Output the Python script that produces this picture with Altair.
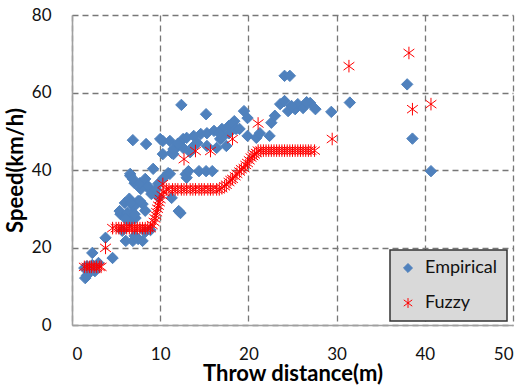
import altair as alt
import pandas as pd

# Empirical observations (throw distance m, speed km/h)
emp_x = [1.4, 1.7, 1.5, 1.7, 2.0, 2.6, 2.3, 2.3, 3.0, 3.8, 4.6,
         5.7, 6.1, 6.9, 7.1, 7.5, 8.0, 8.3, 8.9,
         5.5, 6.0, 6.6, 6.9, 7.2, 7.5, 8.0, 8.3, 9.0, 6.6, 7.1, 8.3, 8.6, 7.8,
         6.6, 6.9, 7.7, 8.3, 8.6, 9.2, 9.5, 9.8, 5.4, 6.5, 7.0, 6.7, 7.7, 6.3, 7.1, 6.1,
         6.9, 8.4, 10.0,
         10.3, 11.1, 11.3, 11.8, 12.6, 10.3, 11.5, 10.9, 11.1, 13.0, 12.9, 11.3, 12.3,
         12.4, 9.8, 10.4,
         13.0, 13.8, 14.6, 15.3, 16.1, 17.0, 17.8, 11.5, 12.6, 13.8, 15.3, 16.4, 17.5,
         15.2, 18.4, 14.2, 16.8, 13.4, 12.0,
         13.2, 14.4, 15.2, 15.9, 12.1,
         18.2, 18.6, 17.8, 17.0, 16.7, 19.0, 19.9, 20.9, 21.3, 22.4, 19.5, 19.9, 22.6, 23.0,
         23.6, 24.1, 24.5, 25.3, 25.6, 26.2, 27.0, 27.6, 24.1, 24.7, 24.9, 26.6,
         29.4, 31.5, 38.0, 38.6, 40.7]
emp_y = [14.7, 15.2, 12.1, 12.8, 13.9, 13.9, 15.5, 18.6, 16.0, 22.5, 17.3,
         24.3, 21.7, 21.7, 23.0, 22.2, 21.7, 24.0, 24.5,
         28.6, 31.5, 26.8, 28.9, 27.6, 32.0, 31.2, 29.5, 33.8, 38.5, 36.6, 36.4, 35.4, 35.1,
         39.0, 37.7, 36.6, 37.7, 35.9, 40.3, 35.0, 33.0, 29.4, 32.6, 30.5, 31.5, 32.0, 28.9, 28.6, 27.4,
         47.7, 46.7, 48.0,
         47.5, 47.5, 44.4, 45.7, 48.0, 44.1, 44.1, 39.2, 39.0, 38.0, 38.9, 32.8, 28.9,
         56.8, 36.5, 38.0,
         48.3, 48.8, 49.3, 49.5, 50.1, 50.6, 51.4, 45.4, 45.7, 46.2, 46.2, 45.7, 46.2,
         54.4, 52.6, 47.0, 48.0, 44.6, 46.8,
         39.7, 39.7, 39.7, 39.7, 29.4,
         52.1, 50.6, 49.5, 48.3, 49.5, 50.6, 48.8, 48.3, 49.5, 48.8, 55.2, 53.4, 52.2, 54.0,
         57.0, 57.8, 55.2, 55.7, 57.0, 56.0, 57.3, 55.7, 64.3, 64.3, 56.5, 57.5,
         55.0, 57.4, 62.1, 48.1, 39.7]

# Fuzzy model estimates
fz_x = [1.4, 1.7, 2.0, 2.2, 2.5, 2.8, 3.1, 3.3,
        3.8,
        4.6, 5.0, 5.3, 5.6, 5.9, 6.2, 6.5, 6.8, 7.1, 7.4, 7.7, 8.0, 8.3, 8.6, 8.9,
        9.1, 9.3, 9.4, 9.5, 9.6, 9.7, 9.8, 9.9, 10.0, 10.2, 10.4, 10.3,
        10.7, 11.0, 11.4, 11.7, 12.0, 12.4, 12.7, 13.0, 13.4, 13.7, 14.0, 14.4, 14.7,
        15.0, 15.4, 15.7, 16.0, 16.4, 16.7,
        17.0, 17.3, 17.5, 17.8, 18.0, 18.2, 18.5, 18.7, 19.0, 19.2, 19.5, 19.7, 19.9,
        20.1, 20.3, 20.5, 20.7, 20.9, 21.1,
        21.4, 21.7, 22.0, 22.3, 22.6, 22.9, 23.2, 23.5, 23.8, 24.1, 24.4, 24.7, 25.0,
        25.3, 25.6, 25.9, 26.2, 26.5, 26.8, 27.1, 27.5,
        12.7, 14.0, 15.7, 18.2, 21.1, 29.5, 31.4, 38.2, 38.6, 40.7]
fz_y = [15.0, 15.0, 15.0, 15.0, 15.0, 15.0, 15.0, 15.0,
        19.9,
        25.0, 25.0, 25.0, 25.0, 25.0, 25.0, 25.0, 25.0, 25.0, 25.0, 25.0, 25.0, 25.0, 25.0, 25.0,
        25.8, 26.6, 27.5, 28.3, 29.1, 30.0, 30.8, 31.7, 32.5, 33.5, 34.3, 36.4,
        35.0, 35.0, 35.0, 35.0, 35.0, 35.0, 35.0, 35.0, 35.0, 35.0, 35.0, 35.0, 35.0,
        35.0, 35.0, 35.0, 35.0, 35.0, 35.0,
        35.3, 35.8, 36.2, 36.9, 37.4, 37.7, 38.4, 39.0, 39.6, 40.2, 40.5, 41.3, 41.8,
        42.5, 43.2, 43.6, 44.0, 44.4, 45.0,
        45.0, 45.0, 45.0, 45.0, 45.0, 45.0, 45.0, 45.0, 45.0, 45.0, 45.0, 45.0, 45.0,
        45.0, 45.0, 45.0, 45.0, 45.0, 45.0, 45.0, 45.0,
        42.8, 44.9, 44.9, 48.0, 52.0, 48.0, 66.8, 70.2, 55.7, 57.0]

series = ["Empirical", "Fuzzy"]

df = pd.concat([
    pd.DataFrame({"x": emp_x, "y": emp_y, "series": series[0]}),
    pd.DataFrame({"x": fz_x, "y": fz_y, "series": series[1]}),
], ignore_index=True)

ASTERISK = "M0,-1.1L0,1.1M-0.95,-0.7L0.95,0.7M-0.95,0.7L0.95,-0.7"
FONT = "Lato"
GRID = "#777777"

chart = alt.Chart(df).mark_point(size=130, strokeWidth=1, opacity=1).encode(
    x=alt.X("x:Q", scale=alt.Scale(domain=[0, 50], nice=False),
            axis=alt.Axis(title="Throw distance(m)", values=[0, 10, 20, 30, 40, 50],
                          ticks=False, labelPadding=21, titlePadding=1)),
    y=alt.Y("y:Q", scale=alt.Scale(domain=[0, 80], nice=False),
            axis=alt.Axis(title="Speed(km/h)", values=[0, 20, 40, 60, 80],
                          ticks=False, labelPadding=21, titlePadding=4)),
    shape=alt.Shape("series:N", scale=alt.Scale(domain=series, range=["diamond", ASTERISK]), title=None),
    fill=alt.Fill("series:N", scale=alt.Scale(domain=series, range=["#4f81bd", "transparent"]), title=None),
    stroke=alt.Stroke("series:N", scale=alt.Scale(domain=series, range=["#4f81bd", "#ff0000"]), title=None),
).properties(
    width=519, height=387,
    autosize=alt.AutoSizeParams(type="fit", contains="padding"),
    padding={"left": 4, "top": 6, "right": 6, "bottom": 3},
).configure_view(
    stroke=None
).configure_axis(
    labelFont=FONT, labelFontSize=17, labelColor="#111111",
    titleFont=FONT, titleFontSize=22, titleFontWeight="bold", titleColor="#000000",
    grid=True, gridColor=GRID, gridDash=[6, 4], gridWidth=1.3, gridOpacity=1,
    domainColor="#a0a0a0", domainWidth=1.6,
).configure_legend(
    orient="none", legendX=318, legendY=235,
    fillColor="#d9d9d9", strokeColor="#333333", strokeWidth=1.5,
    padding=9, rowPadding=17, labelFont=FONT, labelFontSize=18, labelColor="#111111",
    symbolSize=80, symbolStrokeWidth=1, labelOffset=8,
)

chart.save("out.html", embed_options={"renderer": "svg", "actions": False})
